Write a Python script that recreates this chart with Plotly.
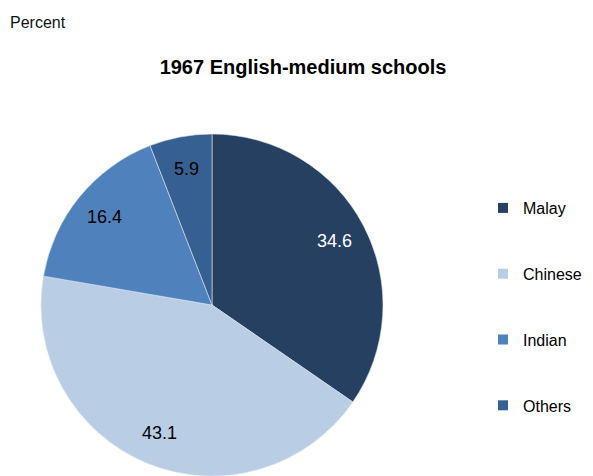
import math
import plotly.graph_objects as go

# 1967 English-medium schools, percent share by group
groups = ["Malay", "Chinese", "Indian", "Others"]
shares = [34.6, 43.1, 16.4, 5.9]
colors = ["#254061", "#B9CDE5", "#4F81BD", "#376092"]
label_colors = ["white", "black", "black", "black"]

# page body has an 8px margin, so the figure is drawn 8px smaller
W, H = 585, 468
dom_x = [31 / W, 377 / W]
dom_y = [0, 1 - 126 / H]

fig = go.Figure()
fig.add_trace(go.Pie(
    labels=groups, values=shares, sort=False, direction="clockwise", rotation=0,
    marker=dict(colors=colors, line=dict(color="#dfe6ef", width=0.6)),
    textinfo="none", domain=dict(x=dom_x, y=dom_y),
    showlegend=False, hoverinfo="label+value",
))

# value labels sit at ~0.81 of the radius on each slice's mid angle
cx = (dom_x[0] + dom_x[1]) / 2 * W
cy = (1 - (dom_y[0] + dom_y[1]) / 2) * H
R = min((dom_x[1] - dom_x[0]) * W, (dom_y[1] - dom_y[0]) * H) / 2
total = sum(shares)
cum = 0
annotations = []
for v, tc in zip(shares, label_colors):
    ang = 2 * math.pi * (cum + v / 2) / total
    cum += v
    px = cx + 0.81 * R * math.sin(ang)
    py = cy - 0.81 * R * math.cos(ang)
    annotations.append(dict(text=f"{v:.1f}", x=px / W, y=1 - py / H, xref="paper", yref="paper",
                            showarrow=False, xanchor="center", yanchor="middle",
                            font=dict(size=18, color=tc)))

annotations.append(dict(text="Percent", x=0, y=1 - 14 / H, xref="paper", yref="paper",
                        xanchor="left", yanchor="middle", showarrow=False,
                        font=dict(size=16, color="#111")))

# legend entries as dummy square markers so the spacing can match
for g, c in zip(groups, colors):
    fig.add_trace(go.Scatter(x=[None], y=[None], mode="markers", name=g, legendgroup=g,
                             marker=dict(symbol="square", size=10, color=c)))

fig.update_layout(
    width=W, height=H, margin=dict(l=0, r=0, t=0, b=0),
    paper_bgcolor="white", plot_bgcolor="white",
    font=dict(family="Liberation Sans, Arial", color="black", size=16),
    title=dict(text="<b>1967 English-medium schools</b>", x=295 / W, xanchor="center",
               y=1 - 59 / H, yanchor="middle", font=dict(size=20, color="black")),
    xaxis=dict(visible=False), yaxis=dict(visible=False),
    legend=dict(x=475 / W, y=1 - 183 / H, xanchor="left", yanchor="top", tracegroupgap=42,
                itemwidth=30, font=dict(size=16), bgcolor="rgba(0,0,0,0)"),
    annotations=annotations,
)

fig.write_html("out.html")
